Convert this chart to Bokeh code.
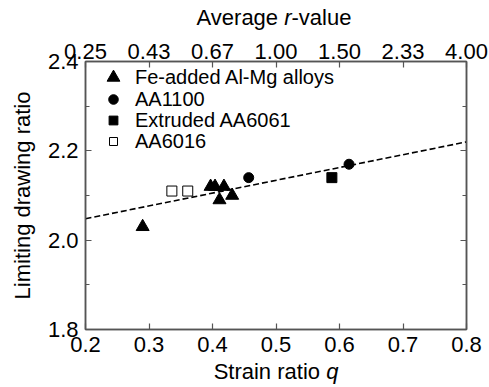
from bokeh.plotting import figure
from bokeh.models import (LinearAxis, FixedTicker, Range1d, Legend, LegendItem,
                          CustomJSTickFormatter, Div)
from bokeh.layouts import column
from bokeh.embed import file_html
from bokeh.resources import INLINE

# ---- data ----
fe_q = [0.290, 0.397, 0.404, 0.418, 0.411, 0.431]
fe_ldr = [2.03, 2.12, 2.12, 2.12, 2.09, 2.10]
aa1100_q = [0.457, 0.615]
aa1100_ldr = [2.14, 2.17]
aa6061_q = [0.588]
aa6061_ldr = [2.14]
aa6016_q = [0.336, 0.361]
aa6016_ldr = [2.11, 2.11]
fit_q = [0.2, 0.8]
fit_ldr = [2.048, 2.220]

series_names = ["Fe-added Al-Mg alloys", "AA1100", "Extruded AA6061", "AA6016"]

q_ticks = [0.2, 0.3, 0.4, 0.5, 0.6, 0.7, 0.8]
q_labels = ["0.2", "0.3", "0.4", "0.5", "0.6", "0.7", "0.8"]
r_labels = ["0.25", "0.43", "0.67", "1.00", "1.50", "2.33", "4.00"]
y_ticks = [1.8, 2.0, 2.2, 2.4]
y_labels = ["1.8", "2.0", "2.2", "2.4"]
y_minor = [1.9, 2.1, 2.3]

FONT = "Liberation Sans"
FS = "22px"
LFS = "20px"
AXC = "#555555"
FRAME_H = 268

p = figure(width=489, height=333, output_backend="svg", toolbar_location=None,
           x_range=Range1d(0.2, 0.8), y_range=Range1d(1.8, 2.4),
           min_border_left=85, min_border_right=23, min_border_top=31, min_border_bottom=34,
           x_axis_location=None, y_axis_location=None, margin=0)
p.grid.visible = False
p.outline_line_color = AXC
p.outline_line_width = 1.5
p.background_fill_color = "white"
p.border_fill_color = "white"


def style_axis(ax, minor=False):
    ax.axis_line_color = AXC
    ax.axis_line_width = 1.5
    ax.major_tick_line_color = AXC
    ax.major_tick_line_width = 1.2
    ax.major_tick_in = 6
    ax.major_tick_out = 0
    ax.minor_tick_line_color = AXC if minor else None
    ax.minor_tick_line_width = 1.2
    ax.minor_tick_in = 4
    ax.minor_tick_out = 0
    ax.major_label_text_font = FONT
    ax.major_label_text_font_size = FS
    ax.major_label_text_color = "black"
    ax.axis_label_text_font = FONT
    ax.axis_label_text_font_size = FS
    ax.axis_label_text_font_style = "normal"
    ax.axis_label_text_color = "black"


bottom = LinearAxis(ticker=FixedTicker(ticks=q_ticks))
bottom.major_label_overrides = dict(zip(q_ticks, q_labels))
style_axis(bottom)
bottom.major_label_standoff = 7
p.add_layout(bottom, "below")

top = LinearAxis(ticker=FixedTicker(ticks=q_ticks))
top.major_label_overrides = dict(zip(q_ticks, r_labels))
style_axis(top)
top.major_label_standoff = 3
p.add_layout(top, "above")

left = LinearAxis(ticker=FixedTicker(ticks=y_ticks, minor_ticks=y_minor),
                  axis_label="Limiting drawing ratio")
left.major_label_overrides = dict(zip(y_ticks, y_labels))
style_axis(left, minor=True)
left.major_label_standoff = 7
left.axis_label_standoff = 10
p.add_layout(left, "left")

right = LinearAxis(ticker=FixedTicker(ticks=y_ticks, minor_ticks=y_minor),
                   formatter=CustomJSTickFormatter(code="return ''"))
style_axis(right, minor=True)
p.add_layout(right, "right")

# fit line
p.line(fit_q, fit_ldr, line_color="black", line_width=1.6, line_dash="6 3")

r_fe = p.scatter(fe_q, fe_ldr, marker="triangle", size=13, fill_color="black", line_color="black")
r_11 = p.scatter(aa1100_q, aa1100_ldr, marker="circle", size=10, fill_color="black", line_color="black")
r_60 = p.scatter(aa6061_q, aa6061_ldr, marker="square", size=10, fill_color="black", line_color="black")
r_16 = p.scatter(aa6016_q, aa6016_ldr, marker="square", size=10, fill_color="white", line_color="black", line_width=1)

# one single-row legend per series so each legend marker can have its own size
# (legend marker size = 0.4 * min(glyph_width, glyph_height))
legend_rows = [
    # renderer, glyph box (w, h), row centre below frame top (px)
    (r_fe, 32, 32, 16.0),
    (r_11, 24, 24, 37.5),
    (r_60, 22, 24, 59.0),
    (r_16, 20, 24, 80.5),
]
GLYPH_CX = 28   # marker centre, px right of frame left
TEXT_X = 50     # label start, px right of frame left
for (rend, gw, gh, cy), name in zip(legend_rows, series_names):
    lg = Legend(items=[LegendItem(label=name, renderers=[rend])],
                location=(GLYPH_CX - gw // 2, int(round(FRAME_H - cy - gh / 2))))
    lg.label_text_font = FONT
    lg.label_text_font_size = LFS
    lg.label_text_color = "black"
    lg.glyph_width = gw
    lg.glyph_height = gh
    lg.label_height = gh
    lg.label_standoff = TEXT_X - GLYPH_CX - gw // 2
    lg.spacing = 0
    lg.padding = 0
    lg.margin = 0
    lg.border_line_color = None
    lg.background_fill_alpha = 0
    p.add_layout(lg)


def title_div(html, height, cy, cx):
    return Div(
        text=(f'<div style="position:relative;width:489px;height:{height}px;">'
              f'<span style="position:absolute;left:{cx}px;top:{cy}px;'
              f'transform:translate(-50%,-50%);white-space:nowrap;'
              f"font-family:'{FONT}';font-size:{FS};color:black;line-height:1;\">"
              f'{html}</span></div>'),
        width=489, height=height, margin=0)


top_div = title_div("Average <i>r</i>-value", 30, 18, 274)
bottom_div = title_div("Strain ratio <i>q</i>", 24, 9, 276)

layout = column(top_div, p, bottom_div, spacing=0)

open("out.html", "w").write(file_html(layout, INLINE))
